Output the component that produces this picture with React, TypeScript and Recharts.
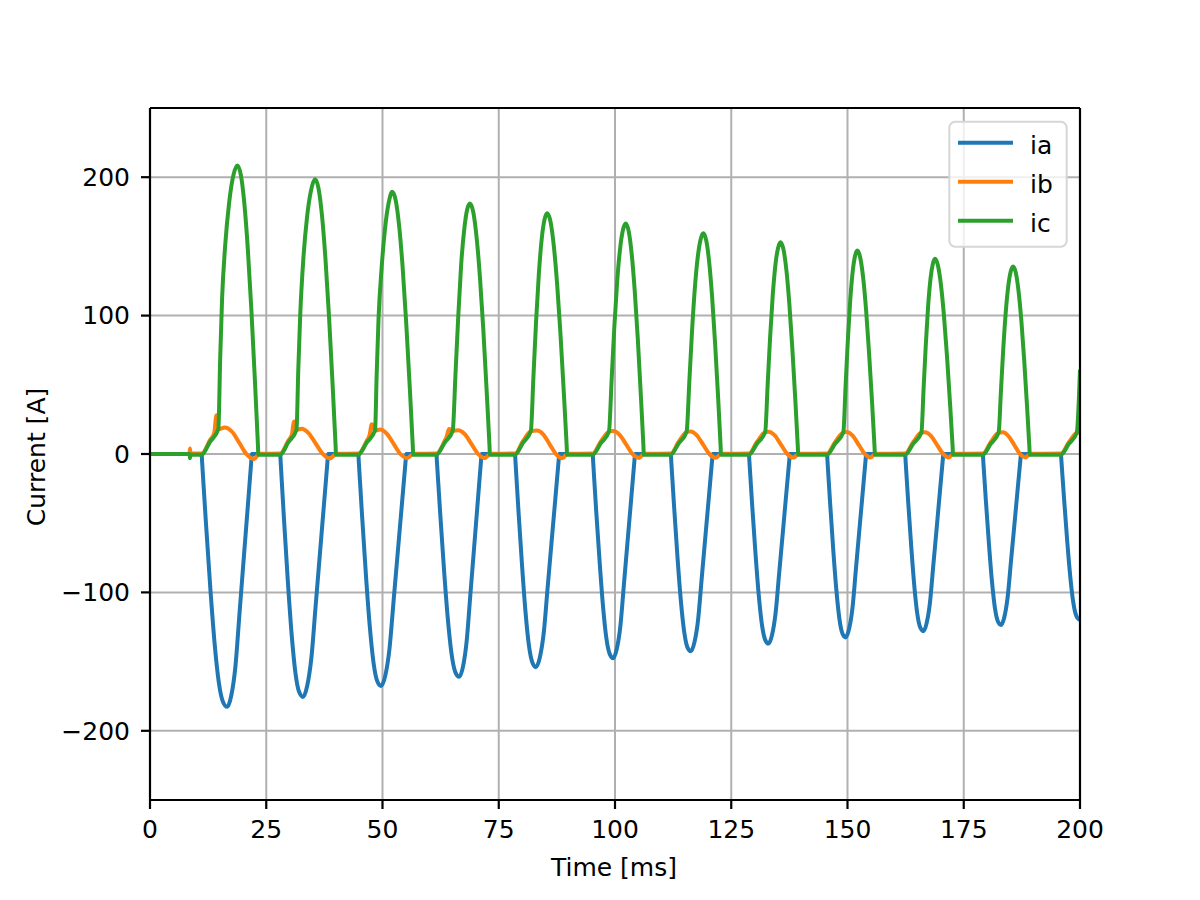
import React from 'react';
import {
  CartesianGrid,
  Line,
  LineChart,
  ReferenceLine,
  XAxis,
  YAxis,
} from 'recharts';

// phase currents, [time ms, current A]
const iaPoints: [number, number][] = [
  [0, 0],
  [11.1, 0], [11.2, -5.3], [12.02, -49.3], [12.93, -95], [13.85, -135.2], [14.77, -164.4], [15.68, -179], [16.6, -182.7],
  [17.48, -174.5], [18.37, -153.5], [19.25, -115.1], [20.13, -76.7], [21.02, -38.4], [21.8, -4.3], [21.9, 0],
  [28.0, 0], [28.1, -5.7], [28.82, -47.4], [29.63, -91.3], [30.45, -129.9], [31.27, -158], [32.08, -172], [32.9, -175.5],
  [33.8, -167.6], [34.7, -147.4], [35.6, -110.6], [36.5, -73.7], [37.4, -36.9], [38.2, -4.1], [38.3, 0],
  [44.8, 0], [44.9, -5.5], [45.62, -45.3], [46.43, -87.2], [47.25, -124], [48.07, -150.8], [48.88, -164.2], [49.7, -167.6],
  [50.6, -160.1], [51.5, -140.8], [52.4, -105.6], [53.3, -70.4], [54.2, -35.2], [55.0, -3.9], [55.1, 0],
  [61.6, 0], [61.7, -5.3], [62.42, -43.5], [63.23, -83.7], [64.05, -119.1], [64.87, -144.9], [65.68, -157.8], [66.5, -161],
  [67.3, -153.8], [68.1, -135.2], [68.9, -101.4], [69.7, -67.6], [70.5, -33.8], [71.2, -4.2], [71.3, 0],
  [78.5, 0], [78.6, -5.5], [79.25, -41.6], [80.0, -80.1], [80.75, -114], [81.5, -138.6], [82.25, -150.9], [83.0, -154],
  [83.83, -147.1], [84.67, -129.4], [85.5, -97], [86.33, -64.7], [87.17, -32.3], [87.9, -3.9], [88.0, 0],
  [95.2, 0], [95.3, -5.4], [95.93, -39.8], [96.67, -76.7], [97.4, -109.2], [98.13, -132.8], [98.87, -144.6], [99.6, -147.5],
  [100.38, -140.9], [101.17, -123.9], [101.95, -92.9], [102.73, -62], [103.52, -31], [104.2, -4], [104.3, 0],
  [112.0, 0], [112.1, -5.3], [112.72, -38.5], [113.43, -74.1], [114.15, -105.5], [114.87, -128.3], [115.58, -139.7], [116.3, -142.5],
  [117.08, -136.1], [117.87, -119.7], [118.65, -89.8], [119.43, -59.9], [120.22, -29.9], [120.9, -3.8], [121.0, 0],
  [128.8, 0], [128.9, -5.2], [129.5, -37], [130.2, -71.2], [130.9, -101.4], [131.6, -123.3], [132.3, -134.3], [133.0, -137],
  [133.77, -130.8], [134.53, -115.1], [135.3, -86.3], [136.07, -57.5], [136.83, -28.8], [137.5, -3.8], [137.6, 0],
  [145.6, 0], [145.7, -5.3], [146.27, -35.8], [146.93, -68.9], [147.6, -98.1], [148.27, -119.3], [148.93, -129.9], [149.6, -132.5],
  [150.33, -126.5], [151.07, -111.3], [151.8, -83.5], [152.53, -55.7], [153.27, -27.8], [153.9, -3.8], [154.0, 0],
  [162.4, 0], [162.5, -5.3], [163.05, -34.6], [163.7, -66.6], [164.35, -94.7], [165.0, -115.2], [165.65, -125.4], [166.3, -128],
  [167.02, -122.2], [167.73, -107.5], [168.45, -80.6], [169.17, -53.8], [169.88, -26.9], [170.5, -3.8], [170.6, 0],
  [179.1, 0], [179.2, -5.1], [179.75, -33.3], [180.4, -64.2], [181.05, -91.4], [181.7, -111.2], [182.35, -121], [183.0, -123.5],
  [183.72, -117.9], [184.43, -103.7], [185.15, -77.8], [185.87, -51.9], [186.58, -25.9], [187.2, -3.6], [187.3, 0],
  [195.9, 0], [196.0, -4.8], [196.57, -32.3], [197.23, -62.1], [197.9, -88.4], [198.57, -107.6], [199.23, -117.1], [199.9, -119.5], [200, -119.5],
];

const ibPoints: [number, number][] = [
  [0, 0], [8.5, 0], [8.6, 4], [8.7, 0.3],
  [11.1, 0.3], [12.9, 10], [13.8, 15], [14.3, 28], [14.7, 18], [16.1, 19.2], [17.7, 15.9], [19.25, 7.8], [20.8, -0.3], [22.4, -3.6], [23.5, 0.2],
  [28.0, 0.3], [29.75, 9.7], [30.5, 14], [31.0, 23.5], [31.5, 17.5], [32.6, 18.3], [34.1, 15.1], [35.65, 7.5], [37.2, -0.1], [38.7, -3.2], [40.1, 0.2],
  [44.8, 0.3], [46.6, 9.4], [47.2, 13.5], [47.7, 21.5], [48.4, 17], [49.5, 17.7], [50.95, 14.6], [52.4, 7.3], [53.85, 0], [55.3, -3], [56.7, 0.2],
  [61.6, 0.3], [63.35, 9.3], [63.8, 12.5], [64.3, 18], [65.1, 16.8], [66.3, 17.2], [67.7, 14.3], [69.15, 7.1], [70.6, -0.1], [72.0, -3], [73.2, 0.2],
  [78.5, 0.3], [80.2, 9.2], [81.9, 16.5], [83.2, 16.9], [84.6, 14.0], [85.95, 7.0], [87.35, -0.2], [88.7, -3], [89.8, 0.2],
  [95.2, 0.3], [96.95, 9], [98.7, 16.2], [99.6, 16.6], [101.0, 13.8], [102.4, 6.9], [103.8, -0.1], [105.2, -2.8], [106.3, 0.2],
  [112.0, 0.3], [113.7, 8.9], [115.4, 16], [116.2, 16.3], [117.6, 13.5], [118.95, 6.8], [120.3, 0], [121.7, -2.7], [122.9, 0.2],
  [128.8, 0.3], [130.55, 8.8], [132.3, 15.8], [133.0, 16.1], [134.35, 13.4], [135.7, 6.75], [137.05, 0], [138.4, -2.6], [139.5, 0.2],
  [145.6, 0.3], [147.35, 8.7], [149.1, 15.6], [149.8, 15.9], [151.1, 13.2], [152.4, 6.7], [153.7, 0.1], [155.0, -2.5], [156.0, 0.2],
  [162.4, 0.3], [164.15, 8.7], [165.9, 15.5], [166.7, 15.8], [167.95, 13.1], [169.25, 6.65], [170.55, 0.1], [171.8, -2.5], [172.8, 0.2],
  [179.1, 0.3], [180.8, 8.6], [182.5, 15.4], [183.4, 15.7], [184.6, 13.0], [185.85, 6.6], [187.1, 0], [188.3, -2.5], [189.3, 0.2],
  [195.9, 0.3], [197.6, 8.6], [199.3, 15.3], [200, 15.8],
];

const icPoints: [number, number][] = [
  [0, 0], [8.5, 0], [8.6, -3], [8.7, -0.5],
  [11.1, -0.5], [12.9, 8.8], [14.7, 18], [15.1, 70], [15.5, 112], [16.2, 152], [17.0, 181], [17.9, 201], [18.8, 208.5],
  [19.55, 201.4], [20.3, 180.6], [21.05, 147.4], [21.8, 104.3], [22.55, 54], [23.2, 7.3], [23.3, -0.5],
  [28.0, -0.5], [29.75, 8.5], [31.5, 17.5], [31.9, 62], [32.3, 100], [33.0, 142], [33.8, 172], [34.6, 190], [35.5, 198.5],
  [36.25, 191.8], [37.0, 171.9], [37.75, 140.3], [38.5, 99.3], [39.25, 51.4], [39.9, 6.9], [40.0, -0.5],
  [44.8, -0.5], [46.6, 8.2], [48.4, 17], [48.75, 58], [49.15, 98], [49.8, 134], [50.55, 163], [51.3, 181], [52.1, 189.5],
  [52.85, 183.1], [53.6, 164.1], [54.35, 134], [55.1, 94.8], [55.85, 49.1], [56.5, 6.6], [56.6, -0.5],
  [61.6, -0.5], [63.35, 8.1], [65.1, 16.8], [65.7, 58], [66.3, 100], [66.9, 136], [67.6, 163], [68.2, 176.5], [68.8, 181],
  [69.52, 174.8], [70.23, 156.7], [70.95, 128], [71.67, 90.5], [72.38, 46.9], [73.0, 6.6], [73.1, -0.5],
  [78.5, -0.5], [80.2, 8], [81.9, 16.5], [82.46, 55.9], [83.02, 95.3], [83.62, 129.9], [84.28, 156.7], [84.84, 169.3], [85.4, 174],
  [86.12, 168.1], [86.83, 150.7], [87.55, 123], [88.27, 87], [88.98, 45.1], [89.6, 6.4], [89.7, -0.5],
  [95.2, -0.5], [96.95, 7.8], [98.7, 16.2], [99.28, 53.8], [99.85, 91.4], [100.46, 124.4], [101.15, 150], [101.72, 162], [102.3, 166.5],
  [102.95, 160.8], [103.6, 144.2], [104.25, 117.7], [104.9, 83.3], [105.55, 43.1], [106.1, 6.7], [106.2, -0.5],
  [112.0, -0.5], [113.7, 7.7], [115.4, 16], [115.98, 51.9], [116.55, 87.8], [117.16, 119.3], [117.85, 143.7], [118.42, 155.2], [119.0, 159.5],
  [119.63, 154.1], [120.27, 138.1], [120.9, 112.8], [121.53, 79.8], [122.17, 41.3], [122.7, 6.6], [122.8, -0.5],
  [128.8, -0.5], [130.55, 7.6], [132.3, 15.8], [132.83, 50.1], [133.36, 84.4], [133.92, 114.6], [134.54, 137.9], [135.07, 148.9], [135.6, 153],
  [136.23, 147.8], [136.87, 132.5], [137.5, 108.2], [138.13, 76.5], [138.77, 39.6], [139.3, 6.3], [139.4, -0.5],
  [145.6, -0.5], [147.35, 7.5], [149.1, 15.6], [149.58, 48.5], [150.06, 81.3], [150.57, 110.2], [151.14, 132.5], [151.62, 143.1], [152.1, 147],
  [152.73, 142], [153.37, 127.3], [154.0, 103.9], [154.63, 73.5], [155.27, 38.1], [155.8, 6.1], [155.9, -0.5],
  [162.4, -0.5], [164.15, 7.5], [165.9, 15.5], [166.36, 46.9], [166.83, 78.3], [167.32, 105.9], [167.87, 127.2], [168.34, 137.2], [168.8, 141],
  [169.45, 136.2], [170.1, 122.1], [170.75, 99.7], [171.4, 70.5], [172.05, 36.5], [172.6, 5.7], [172.7, -0.5],
  [179.1, -0.5], [180.8, 7.4], [182.5, 15.4], [183.0, 45.4], [183.49, 75.5], [184.02, 101.9], [184.61, 122.3], [185.1, 131.9], [185.6, 135.5],
  [186.2, 130.9], [186.8, 117.3], [187.4, 95.8], [188.0, 67.75], [188.6, 35.1], [189.1, 5.9], [189.2, -0.5],
  [195.9, -0.5], [197.6, 7.4], [199.3, 15.3], [200, 61],
];

const xTicks = [0, 25, 50, 75, 100, 125, 150, 175, 200];
const yTicks = [-200, -100, 0, 100, 200];

const series = [
  { name: 'ia', color: '#1f77b4', points: iaPoints },
  { name: 'ib', color: '#ff7f0e', points: ibPoints },
  { name: 'ic', color: '#2ca02c', points: icPoints },
];

const FONT = '"DejaVu Sans", sans-serif';

const toRows = (pts: [number, number][]) => pts.map(([t, v]) => ({ t, v }));

const fmtTick = (v: number) => (v < 0 ? `\u2212${-v}` : `${v}`);

function AxisTitle({ tx, ty, rot, text }: { tx: number; ty: number; rot?: number; text: string }) {
  return (
    <text
      x={tx}
      y={ty}
      transform={rot ? `rotate(${rot} ${tx} ${ty})` : undefined}
      textAnchor="middle"
      fontSize={25}
      fontFamily={FONT}
      fill="#000"
    >
      {text}
    </text>
  );
}

function LegendBox() {
  return (
    <svg
      width={122}
      height={130}
      style={{ position: 'absolute', left: 948, top: 120, fontFamily: FONT }}
    >
      <rect x={1.3} y={1.7} width={117.4} height={125} rx={6} fill="rgba(255,255,255,0.8)" stroke="#d6d6d6" strokeWidth={2} />
      {series.map((s, i) => {
        const cy = 22.7 + i * 39;
        return (
          <g key={s.name}>
            <line x1={10} x2={65} y1={cy} y2={cy} stroke={s.color} strokeWidth={4} />
            <text x={82} y={cy + 10.8} fontSize={25} fill="#000">
              {s.name}
            </text>
          </g>
        );
      })}
    </svg>
  );
}

export default function App() {
  const tickStyle = { fontSize: 25, fill: '#000', fontFamily: FONT };
  return (
    <div style={{ position: 'fixed', left: 0, top: 0, width: 1200, height: 900, background: '#fff' }}>
      <LineChart width={1200} height={900} margin={{ top: 108, right: 120, bottom: 60, left: 70 }}>
        <CartesianGrid stroke="#b0b0b0" strokeWidth={2} />
        <XAxis
          dataKey="t"
          type="number"
          domain={[0, 200]}
          ticks={xTicks}
          allowDataOverflow
          height={40}
          tickSize={9}
          tickMargin={11}
          tick={tickStyle}
          axisLine={{ stroke: '#000', strokeWidth: 2.2 }}
          tickLine={{ stroke: '#000', strokeWidth: 2.2 }}
          label={<AxisTitle tx={614} ty={876} text="Time [ms]" />}
        />
        <YAxis
          type="number"
          domain={[-250, 250]}
          ticks={yTicks}
          allowDataOverflow
          width={80}
          tickSize={9}
          tickMargin={11}
          tick={tickStyle}
          tickFormatter={fmtTick}
          axisLine={{ stroke: '#000', strokeWidth: 2.2 }}
          tickLine={{ stroke: '#000', strokeWidth: 2.2 }}
          label={<AxisTitle tx={45} ty={457} rot={-90} text="Current [A]" />}
        />
        {series.map((s) => (
          <Line
            key={s.name}
            name={s.name}
            data={toRows(s.points)}
            dataKey="v"
            type="monotone"
            stroke={s.color}
            strokeWidth={4}
            strokeLinejoin="round"
            dot={false}
            activeDot={false}
            isAnimationActive={false}
          />
        ))}
        <ReferenceLine y={250} stroke="#000" strokeWidth={2.2} />
        <ReferenceLine x={200} stroke="#000" strokeWidth={2.2} />
      </LineChart>
      <LegendBox />
    </div>
  );
}
